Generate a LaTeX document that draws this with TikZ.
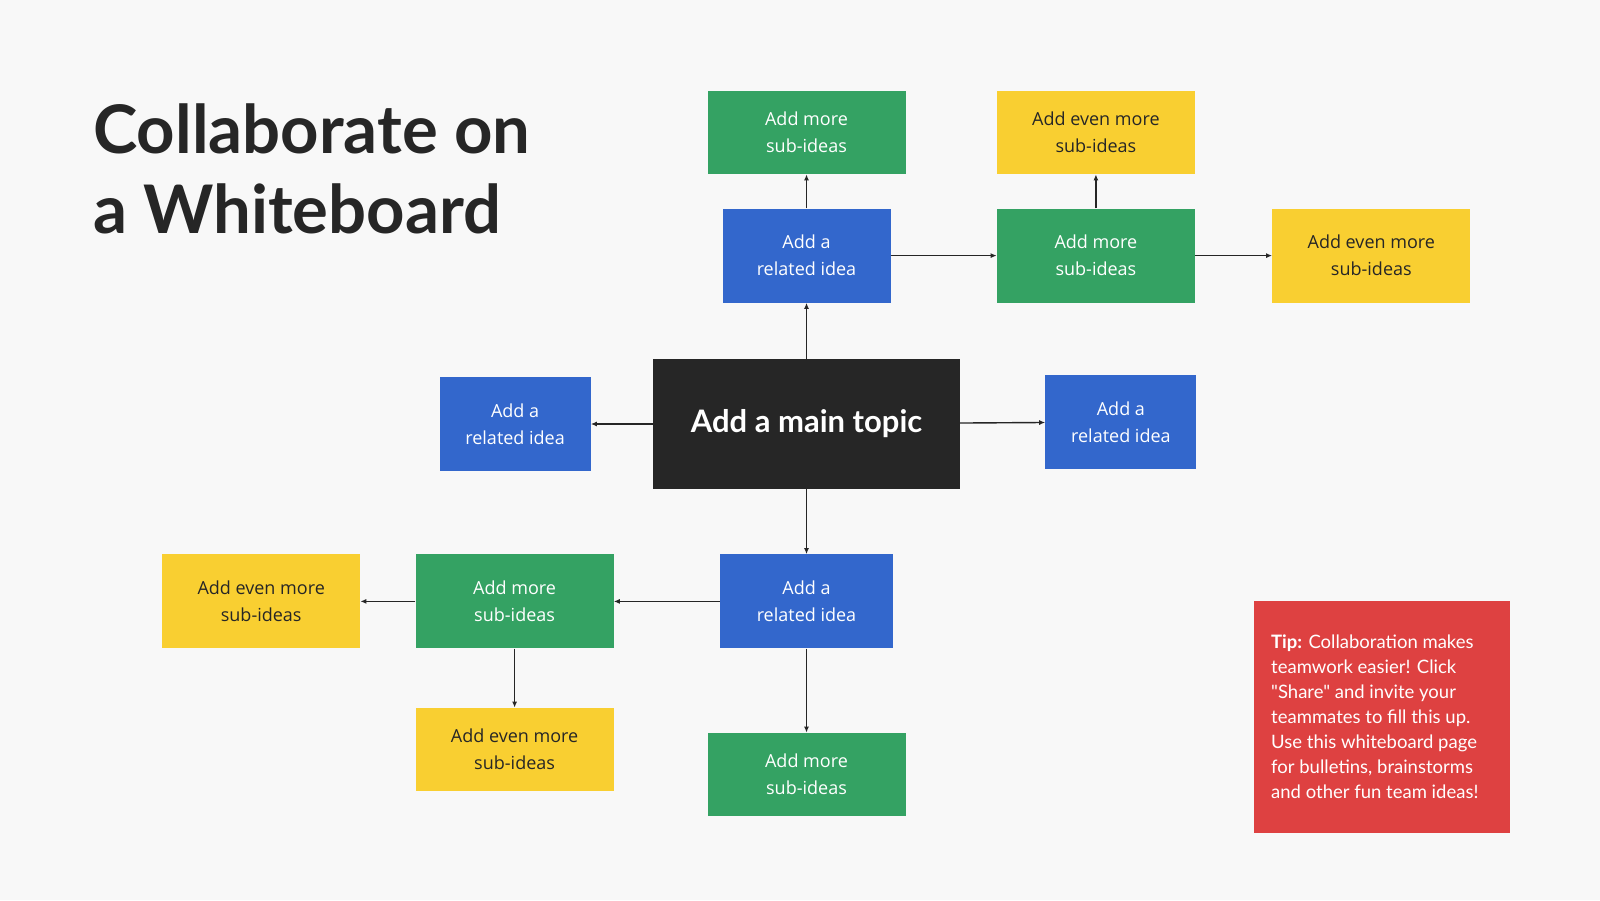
\documentclass[tikz,border=0pt]{standalone}
\usepackage{fontspec}
\setmainfont{Open Sans}
\newfontfamily\headfont{Lato}
\usepackage{tikz}
\usetikzlibrary{positioning,arrows.meta}
\definecolor{board}{HTML}{F8F8F8}
\definecolor{ideablue}{HTML}{3367CC}
\definecolor{ideagreen}{HTML}{34A263}
\definecolor{ideayellow}{HTML}{F9CF31}
\definecolor{tipred}{HTML}{DE4141}
\definecolor{ink}{HTML}{262626}

\begin{document}
\begin{tikzpicture}
 	[x=1pt,y=-1pt,node distance=50pt,
 	 box/.style={rectangle,inner sep=0pt,align=center,font=\fontsize{18}{27}\selectfont},
 	 related/.style={box,fill=ideablue,text=white,minimum width=#1,minimum height=94pt},
 	 related/.default=168pt,
 	 sub/.style={box,fill=ideagreen,text=white,minimum width=198pt,minimum height=#1},
 	 sub/.default=94pt,
 	 subsub/.style={box,fill=ideayellow,text=ink,minimum width=198pt,minimum height=#1},
 	 subsub/.default=94pt,
 	 link/.style={-{Latex[length=6pt,width=5pt]},draw=ink,line width=1.4pt}]
 \fill[board] (0,0) rectangle (1600,900);
 \node (title1) [anchor=base west,inner sep=0pt,text=ink,font=\headfont\bfseries\fontsize{67}{80}\selectfont] at (93,153) {Collaborate on};
 \node (title2) [anchor=base west,inner sep=0pt,text=ink,font=\headfont\bfseries\fontsize{67}{80}\selectfont] at (93,233) {a Whiteboard};
 \node (main) [box,fill=ink,text=white,minimum width=307pt,minimum height=130pt,font=\headfont\bfseries\fontsize{31}{36}\selectfont] at (806.5,424) {Add a main topic};
 \node (rt) [above=56pt of main] [related] {Add a\\related idea};
 \node (gt) [above=34pt of rt] [sub=83.5pt] {Add more\\sub-ideas};
 \node (gr) [right=106pt of rt] [sub] {Add more\\sub-ideas};
 \node (yt) [above=34pt of gr] [subsub=83.5pt] {Add even more\\sub-ideas};
 \node (yr) [right=77pt of gr] [subsub] {Add even more\\sub-ideas};
 \node (rl) [left=62pt of main] [related=151pt] {Add a\\related idea};
 \node (rr) [right=85pt of main,yshift=2pt] [related=151pt] {Add a\\related idea};
 \node (rb) [below=65pt of main] [related=173pt] {Add a\\related idea};
 \node (gl) [left=106pt of rb] [sub] {Add more\\sub-ideas};
 \node (yl) [left=55pt of gl] [subsub] {Add even more\\sub-ideas};
 \node (yb) [below=59pt of gl] [subsub=83.5pt] {Add even more\\sub-ideas};
 \node (gb) [below=84pt of rb] [sub=83.5pt] {Add more\\sub-ideas};
 \foreach \from/\to in {main/rt, rt/gt, rt/gr, gr/yt, gr/yr, main/rl, main/rr, main/rb, rb/gl, gl/yl, gl/yb, rb/gb}
 \draw[link] (\from) -- (\to);
 \node (tip) [rectangle,fill=tipred,minimum width=256pt,minimum height=232pt,anchor=north west] at (1254,601) {};
 \node (tiptext) [anchor=west,inner sep=0pt,align=left,text=white,font=\headfont\fontsize{18.5}{25}\selectfont] at ([xshift=17pt]tip.west)
  {\textbf{Tip:} Collaboration makes\\teamwork easier! Click\\"Share" and invite your\\teammates to fill this up.\\Use this whiteboard page\\for bulletins, brainstorms\\and other fun team ideas!};
\end{tikzpicture}
\end{document}
